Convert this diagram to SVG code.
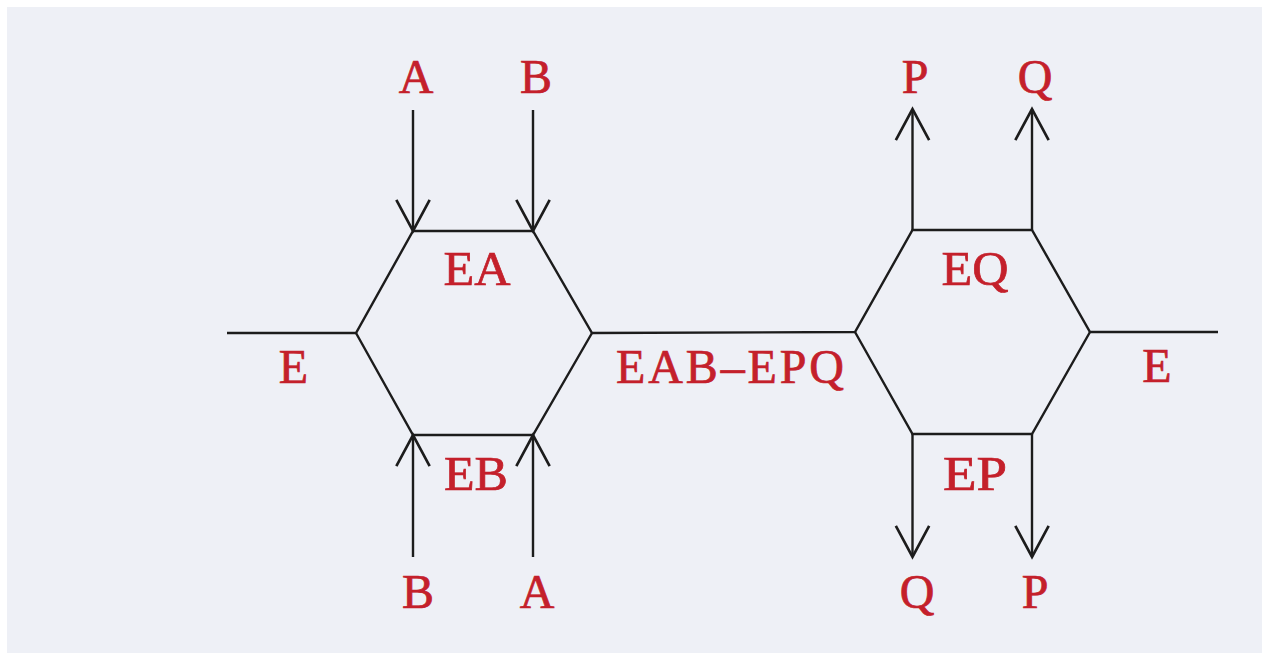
<svg xmlns="http://www.w3.org/2000/svg" width="1262" height="661" viewBox="0 0 1262 661">
  <style>
    .lbl { font-family: "Liberation Serif", "DejaVu Serif", serif; font-size: 48px; fill: #c4202b; stroke: #c4202b; stroke-width: 0.7; text-anchor: middle; }
    .ln { fill: none; stroke: #1c1c1c; stroke-width: 2.4; stroke-linejoin: miter; stroke-linecap: butt; }
  </style>
  <defs>
    <marker id="arr" markerUnits="userSpaceOnUse" markerWidth="40" markerHeight="40" viewBox="-32 -18 36 36" refX="0" refY="0" orient="auto" overflow="visible">
      <path d="M-28,-15 L0,0 L-28,15" fill="none" stroke="#1c1c1c" stroke-width="2.4"/>
    </marker>
  </defs>
  <rect x="0" y="0" width="1262" height="661" fill="#ffffff"/>
  <rect x="7" y="7" width="1255" height="646" fill="#eef0f6"/>

  <g id="connectors">
    <polyline class="ln" points="227,333 356,333 413,231 533,231 592,333 855,332 912.5,230 1032,230 1090,332 1218,332"/>
    <polyline class="ln" points="356,333 413,435 533,435 592,333"/>
    <polyline class="ln" points="855,332 912.5,434 1032,434 1090,332"/>
    <line class="ln" x1="413" y1="110" x2="413" y2="231" marker-end="url(#arr)"/>
    <line class="ln" x1="533" y1="110" x2="533" y2="231" marker-end="url(#arr)"/>
    <line class="ln" x1="413" y1="557" x2="413" y2="435" marker-end="url(#arr)"/>
    <line class="ln" x1="533" y1="557" x2="533" y2="435" marker-end="url(#arr)"/>
    <line class="ln" x1="912.5" y1="230" x2="912.5" y2="109" marker-end="url(#arr)"/>
    <line class="ln" x1="1032" y1="230" x2="1032" y2="109" marker-end="url(#arr)"/>
    <line class="ln" x1="912.5" y1="434" x2="912.5" y2="557" marker-end="url(#arr)"/>
    <line class="ln" x1="1032" y1="434" x2="1032" y2="557" marker-end="url(#arr)"/>
  </g>

  <g id="node-E-left"><text class="lbl" x="293.5" y="383">E</text></g>
  <g id="node-EA"><text class="lbl" x="477" y="285" textLength="67" lengthAdjust="spacingAndGlyphs">EA</text></g>
  <g id="node-EB"><text class="lbl" x="476" y="490" textLength="64" lengthAdjust="spacingAndGlyphs">EB</text></g>
  <g id="node-EAB-EPQ"><text class="lbl" x="730" y="383" textLength="228" lengthAdjust="spacing">EAB–EPQ</text></g>
  <g id="node-EQ"><text class="lbl" x="975" y="285" textLength="67" lengthAdjust="spacingAndGlyphs">EQ</text></g>
  <g id="node-EP"><text class="lbl" x="975" y="490" textLength="64" lengthAdjust="spacingAndGlyphs">EP</text></g>
  <g id="node-E-right"><text class="lbl" x="1157" y="382">E</text></g>

  <g id="node-A-top"><text class="lbl" x="416" y="93">A</text></g>
  <g id="node-B-top"><text class="lbl" x="536" y="93">B</text></g>
  <g id="node-B-bottom"><text class="lbl" x="418" y="608">B</text></g>
  <g id="node-A-bottom"><text class="lbl" x="537" y="608">A</text></g>
  <g id="node-P-top"><text class="lbl" x="915" y="93">P</text></g>
  <g id="node-Q-top"><text class="lbl" x="1035" y="93">Q</text></g>
  <g id="node-Q-bottom"><text class="lbl" x="917" y="608">Q</text></g>
  <g id="node-P-bottom"><text class="lbl" x="1035" y="608">P</text></g>
</svg>
